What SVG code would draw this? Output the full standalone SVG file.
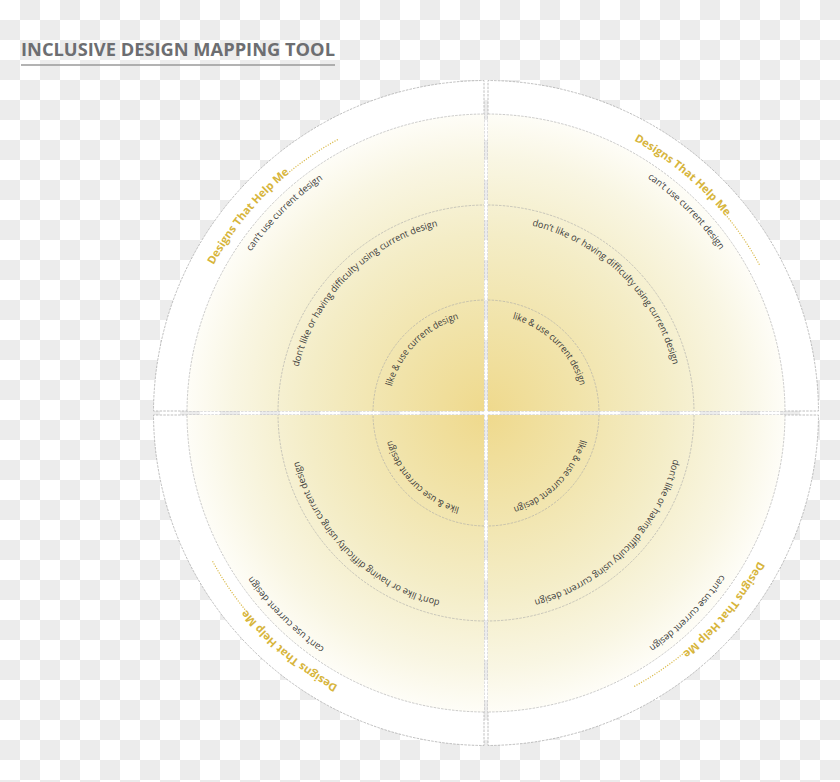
<svg xmlns="http://www.w3.org/2000/svg" xmlns:xlink="http://www.w3.org/1999/xlink" width="840" height="782" viewBox="0 0 840 782">
  <defs>
    <pattern id="checker" width="40" height="40" patternUnits="userSpaceOnUse">
      <rect width="40" height="40" fill="#ffffff"/>
      <rect x="20" y="0" width="20" height="20" fill="#ececec"/>
      <rect x="0" y="20" width="20" height="20" fill="#ececec"/>
    </pattern>
    <radialGradient id="glow" gradientUnits="userSpaceOnUse" cx="486" cy="413" r="299">
      <stop offset="0" stop-color="#efd98c"/>
      <stop offset="0.3" stop-color="#f1e3a9"/>
      <stop offset="0.6" stop-color="#f4edc7"/>
      <stop offset="0.85" stop-color="#f9f6e3"/>
      <stop offset="1" stop-color="#fefdf7"/>
    </radialGradient>
    <path id="p-label" d="M213.6 265.1 A310 310 0 0 1 308.2 159.1"/>
    <path id="p-cant" d="M251.1 251.6 A285 285 0 0 1 352.2 161.4"/>
    <path id="p-dont" d="M298.6 367 A193 193 0 0 1 469.2 220.7"/>
    <path id="p-like" d="M391.7 386.5 A98 98 0 0 1 477.5 315.4"/>
  </defs>
  <style>
    .edge { fill: #ffffff; stroke: #a3a3a3; stroke-width: 0.7; stroke-dasharray: 2.5 1.2; }
    .glow { fill: url(#glow); }
    .ring { fill: none; stroke: #a8a8a8; stroke-width: 0.6; stroke-dasharray: 2.5 1.2; }
    .dots { fill: none; stroke: #d9b845; stroke-width: 1.2; stroke-dasharray: 1.1 1.5; }
    .label { font-family: "Open Sans", "Liberation Sans", sans-serif; font-weight: bold; font-size: 11px; fill: #d7b53c; }
    .level { font-family: "Open Sans", "Liberation Sans", sans-serif; font-size: 9.5px; fill: #3b3b3b; }
    .title { font-family: "Open Sans", "Liberation Sans", sans-serif; font-weight: bold; font-size: 18px; fill: #6d6e71; }
  </style>

  <rect width="840" height="782" fill="url(#checker)"/>

  <g id="title">
    <text class="title" x="21" y="55.5" textLength="314" lengthAdjust="spacingAndGlyphs">INCLUSIVE DESIGN MAPPING TOOL</text>
    <line x1="21" y1="65" x2="335" y2="65" stroke="#9a9a9a" stroke-width="1.5"/>
  </g>

  <g id="quadrant-tl">
    <path class="edge" d="M484 411 H153.5 A332.5 332.5 0 0 1 484 80.5 Z"/>
    <path class="glow" d="M484 411 H187 A299 299 0 0 1 484 114 Z"/>
    <path class="ring" d="M187 411 A299 299 0 0 1 484 114"/>
    <path class="ring" d="M278 411 A208 208 0 0 1 484 205"/>
    <path class="ring" d="M373 411 A113 113 0 0 1 484 300"/>
    <path class="dots" d="M289.4 172 A311 311 0 0 1 338.1 139.4"/>
    <text class="label"><textPath href="#p-label" xlink:href="#p-label" textLength="120" lengthAdjust="spacingAndGlyphs">Designs That Help Me</textPath></text>
    <text class="level"><textPath href="#p-cant" xlink:href="#p-cant" textLength="102.5" lengthAdjust="spacingAndGlyphs">can’t use current design</textPath></text>
    <text class="level"><textPath href="#p-dont" xlink:href="#p-dont" textLength="208" lengthAdjust="spacingAndGlyphs">don’t like or having difficulty using current design</textPath></text>
    <text class="level"><textPath href="#p-like" xlink:href="#p-like" textLength="99.4" lengthAdjust="spacingAndGlyphs">like &amp; use current design</textPath></text>
  </g>

  <g id="quadrant-tr" transform="rotate(90 486 413)">
    <path class="edge" d="M484 411 H153.5 A332.5 332.5 0 0 1 484 80.5 Z"/>
    <path class="glow" d="M484 411 H187 A299 299 0 0 1 484 114 Z"/>
    <path class="ring" d="M187 411 A299 299 0 0 1 484 114"/>
    <path class="ring" d="M278 411 A208 208 0 0 1 484 205"/>
    <path class="ring" d="M373 411 A113 113 0 0 1 484 300"/>
    <path class="dots" d="M289.4 172 A311 311 0 0 1 338.1 139.4"/>
    <text class="label"><textPath href="#p-label" xlink:href="#p-label" textLength="120" lengthAdjust="spacingAndGlyphs">Designs That Help Me</textPath></text>
    <text class="level"><textPath href="#p-cant" xlink:href="#p-cant" textLength="102.5" lengthAdjust="spacingAndGlyphs">can’t use current design</textPath></text>
    <text class="level"><textPath href="#p-dont" xlink:href="#p-dont" textLength="208" lengthAdjust="spacingAndGlyphs">don’t like or having difficulty using current design</textPath></text>
    <text class="level"><textPath href="#p-like" xlink:href="#p-like" textLength="99.4" lengthAdjust="spacingAndGlyphs">like &amp; use current design</textPath></text>
  </g>

  <g id="quadrant-br" transform="rotate(180 486 413)">
    <path class="edge" d="M484 411 H153.5 A332.5 332.5 0 0 1 484 80.5 Z"/>
    <path class="glow" d="M484 411 H187 A299 299 0 0 1 484 114 Z"/>
    <path class="ring" d="M187 411 A299 299 0 0 1 484 114"/>
    <path class="ring" d="M278 411 A208 208 0 0 1 484 205"/>
    <path class="ring" d="M373 411 A113 113 0 0 1 484 300"/>
    <path class="dots" d="M289.4 172 A311 311 0 0 1 338.1 139.4"/>
    <text class="label"><textPath href="#p-label" xlink:href="#p-label" textLength="120" lengthAdjust="spacingAndGlyphs">Designs That Help Me</textPath></text>
    <text class="level"><textPath href="#p-cant" xlink:href="#p-cant" textLength="102.5" lengthAdjust="spacingAndGlyphs">can’t use current design</textPath></text>
    <text class="level"><textPath href="#p-dont" xlink:href="#p-dont" textLength="208" lengthAdjust="spacingAndGlyphs">don’t like or having difficulty using current design</textPath></text>
    <text class="level"><textPath href="#p-like" xlink:href="#p-like" textLength="99.4" lengthAdjust="spacingAndGlyphs">like &amp; use current design</textPath></text>
  </g>

  <g id="quadrant-bl" transform="rotate(270 486 413)">
    <path class="edge" d="M484 411 H153.5 A332.5 332.5 0 0 1 484 80.5 Z"/>
    <path class="glow" d="M484 411 H187 A299 299 0 0 1 484 114 Z"/>
    <path class="ring" d="M187 411 A299 299 0 0 1 484 114"/>
    <path class="ring" d="M278 411 A208 208 0 0 1 484 205"/>
    <path class="ring" d="M373 411 A113 113 0 0 1 484 300"/>
    <path class="dots" d="M289.4 172 A311 311 0 0 1 338.1 139.4"/>
    <text class="label"><textPath href="#p-label" xlink:href="#p-label" textLength="120" lengthAdjust="spacingAndGlyphs">Designs That Help Me</textPath></text>
    <text class="level"><textPath href="#p-cant" xlink:href="#p-cant" textLength="102.5" lengthAdjust="spacingAndGlyphs">can’t use current design</textPath></text>
    <text class="level"><textPath href="#p-dont" xlink:href="#p-dont" textLength="208" lengthAdjust="spacingAndGlyphs">don’t like or having difficulty using current design</textPath></text>
    <text class="level"><textPath href="#p-like" xlink:href="#p-like" textLength="99.4" lengthAdjust="spacingAndGlyphs">like &amp; use current design</textPath></text>
  </g>
</svg>
